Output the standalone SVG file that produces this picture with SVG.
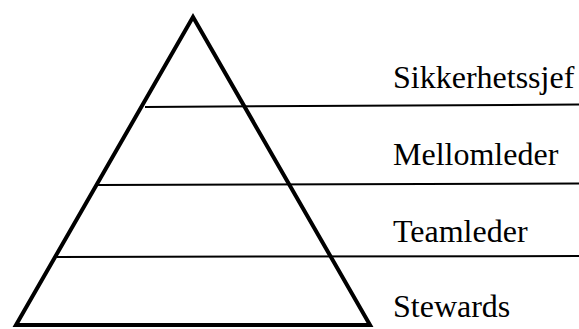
<svg xmlns="http://www.w3.org/2000/svg" width="579" height="329" viewBox="0 0 579 329">
<style>
.lvl{stroke:#000;stroke-width:2;fill:none}
.lbl{font-family:"Liberation Serif","Times New Roman",serif;font-size:32px;fill:#000}
</style>
<rect width="579" height="329" fill="#fff"/>
<g id="connectors">
<line class="lvl" x1="145" y1="107" x2="579" y2="104.5"/>
<line class="lvl" x1="98" y1="185" x2="579" y2="183.5"/>
<line class="lvl" x1="57" y1="257" x2="579" y2="256"/>
</g>
<g id="pyramid">
<polygon points="193,17 16,325 370,325" fill="none" stroke="#000" stroke-width="4" stroke-linejoin="miter" stroke-miterlimit="10"/>
</g>
<g id="sikkerhetssjef"><text class="lbl" x="393" y="88">Sikkerhetssjef</text></g>
<g id="mellomleder"><text class="lbl" x="393" y="165">Mellomleder</text></g>
<g id="teamleder"><text class="lbl" x="393" y="241.5">Teamleder</text></g>
<g id="stewards"><text class="lbl" x="393" y="316.5">Stewards</text></g>
</svg>
